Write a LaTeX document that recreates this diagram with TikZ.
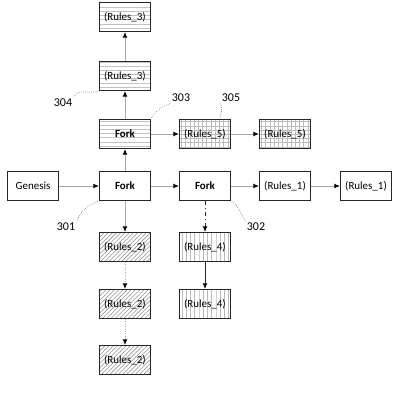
\documentclass[tikz,border=0pt]{standalone}
\usepackage{fontspec}
\setmainfont{Carlito}
\usetikzlibrary{arrows.meta,patterns}
\definecolor{linkgray}{RGB}{170,170,170}
\definecolor{hatchgray}{RGB}{120,120,120}
\tikzset{
  blockbox/.style={draw=black!85,line width=0.9pt,minimum width=1.27cm,minimum height=0.72cm,inner sep=0pt,font=\fontsize{7.8}{9}\selectfont},
  forkbox/.style={blockbox,font=\fontsize{7.8}{9}\selectfont\bfseries},
  rulesthree/.style={pattern=horizontal lines,pattern color=hatchgray!45},
  rulesfive/.style={pattern=grid,pattern color=hatchgray!50},
  rulestwo/.style={pattern=north east lines,pattern color=hatchgray!80},
  rulesfour/.style={pattern=vertical lines,pattern color=hatchgray!50},
  link/.style={draw=linkgray,line width=0.7pt,-{Latex[black,length=4pt,width=3.5pt]}},
  darklink/.style={link,draw=black!85},
  leader/.style={draw=black!70,line width=0.4pt,densely dotted},
  refnum/.style={font=\fontsize{8.5}{10}\selectfont,inner sep=1pt}
}
\begin{document}
\begin{tikzpicture}[x=0.025cm,y=-0.025cm]
  \useasboundingbox (0,0) rectangle (400,400);
  % main chain
  \node[blockbox] (genesis) at (33,186) {Genesis};
  \node[forkbox] (forkA) at (125,186) {Fork};
  \node[forkbox] (forkB) at (205,186) {Fork};
  \node[blockbox] (rulesOneA) at (285,186) {(Rules\_1)};
  \node[blockbox] (rulesOneB) at (366,186) {(Rules\_1)};
  % upper branch
  \node[forkbox,rulesthree] (forkC) at (125,134) {Fork};
  \node[blockbox,rulesfive] (rulesFiveA) at (205,134) {(Rules\_5)};
  \node[blockbox,rulesfive] (rulesFiveB) at (285,134) {(Rules\_5)};
  \node[blockbox,rulesthree] (rulesThreeA) at (125,76) {(Rules\_3)};
  \node[blockbox,rulesthree] (rulesThreeB) at (125,17) {(Rules\_3)};
  % lower branches
  \node[blockbox,rulestwo] (rulesTwoA) at (125,247) {(Rules\_2)};
  \node[blockbox,rulestwo] (rulesTwoB) at (125,304) {(Rules\_2)};
  \node[blockbox,rulestwo] (rulesTwoC) at (125,360) {(Rules\_2)};
  \node[blockbox,rulesfour] (rulesFourA) at (205,247) {(Rules\_4)};
  \node[blockbox,rulesfour] (rulesFourB) at (205,304) {(Rules\_4)};
  % connectors
  \draw[link] (genesis) -- (forkA);
  \draw[link] (forkA) -- (forkB);
  \draw[link] (forkB) -- (rulesOneA);
  \draw[link] (rulesOneA) -- (rulesOneB);
  \draw[link] (forkA) -- (forkC);
  \draw[link] (forkC) -- (rulesThreeA);
  \draw[link] (rulesThreeA) -- (rulesThreeB);
  \draw[link] (forkC) -- (rulesFiveA);
  \draw[link] (rulesFiveA) -- (rulesFiveB);
  \draw[link] (forkA) -- (rulesTwoA);
  \draw[link,densely dotted] (rulesTwoA) -- (rulesTwoB);
  \draw[link,densely dotted] (rulesTwoB) -- (rulesTwoC);
  \draw[darklink,dash dot] (forkB) -- (rulesFourA);
  \draw[darklink] (rulesFourA) -- (rulesFourB);
  % reference numerals
  \node[refnum] (n301) at (66,227) {301};
  \node[refnum] (n302) at (256,227) {302};
  \node[refnum] (n303) at (181,98) {303};
  \node[refnum] (n304) at (63,103) {304};
  \node[refnum] (n305) at (231,98) {305};
  \draw[leader] (n301.north east) to[out=70,in=200] (forkA.south west);
  \draw[leader] (n302.north west) to[out=120,in=-30] (forkB.south east);
  \draw[leader] (n303.south west) to[out=200,in=60] (forkC.north east);
  \draw[leader] (n304.north east) to[out=70,in=200] (rulesThreeA.south west);
  \draw[leader] (n305.south west) to[out=-60,in=80] ([xshift=-8pt]rulesFiveA.north east);
\end{tikzpicture}
\end{document}
